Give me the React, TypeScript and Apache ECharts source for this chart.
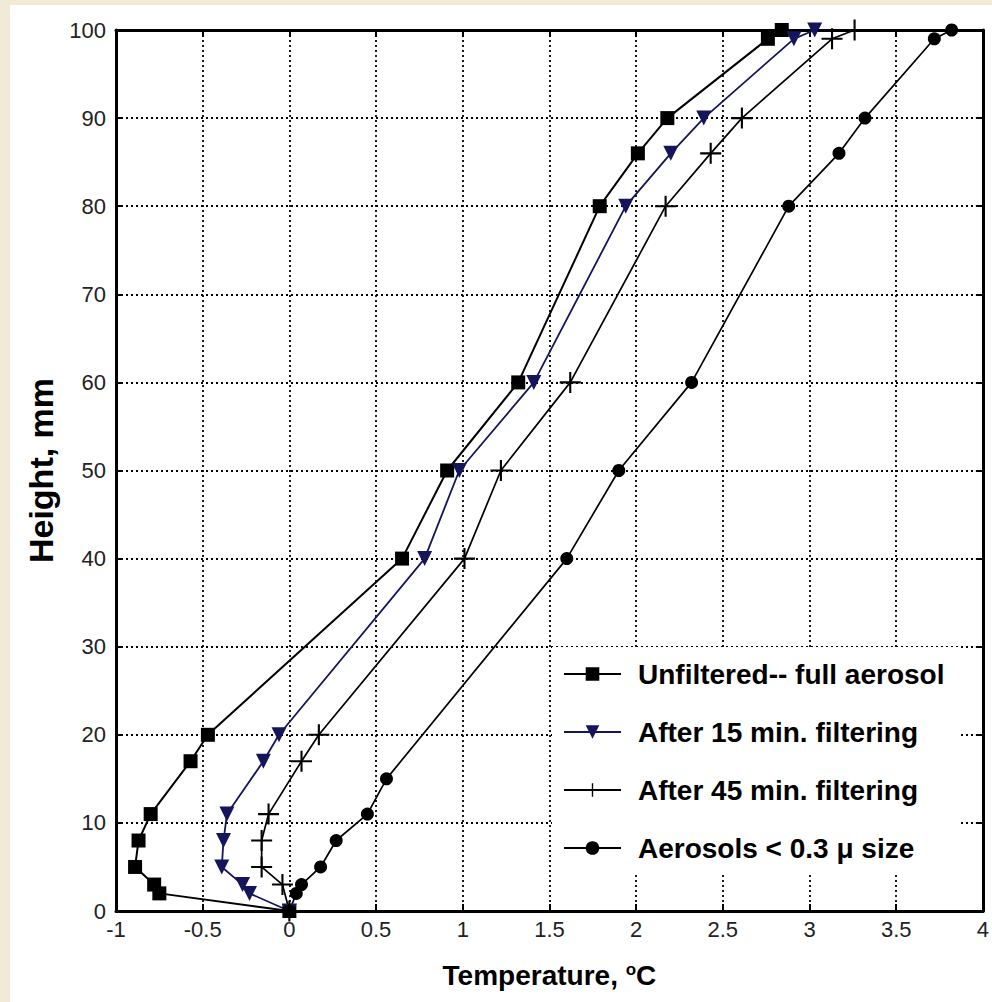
import React, { useEffect, useRef } from "react";
import * as echarts from "echarts";

const heightsUnfiltered = [0, 2, 3, 5, 8, 11, 17, 20, 40, 50, 60, 80, 86, 90, 99, 100];
const tempUnfiltered = [0, -0.75, -0.78, -0.89, -0.87, -0.8, -0.57, -0.47, 0.65, 0.91, 1.32, 1.79, 2.01, 2.18, 2.76, 2.84];

const heights15 = [0, 2, 3, 5, 8, 11, 17, 20, 40, 50, 60, 80, 86, 90, 99, 100];
const temp15 = [0, -0.23, -0.27, -0.39, -0.38, -0.36, -0.15, -0.06, 0.78, 0.98, 1.41, 1.94, 2.2, 2.39, 2.91, 3.03];

const heights45 = [0, 3, 5, 8, 11, 17, 20, 40, 50, 60, 80, 86, 90, 99, 100];
const temp45 = [0, -0.04, -0.16, -0.16, -0.12, 0.07, 0.17, 1.01, 1.22, 1.62, 2.17, 2.43, 2.61, 3.13, 3.26];

const heightsSmall = [0, 2, 3, 5, 8, 11, 15, 40, 50, 60, 80, 86, 90, 99, 100];
const tempSmall = [0, 0.04, 0.07, 0.18, 0.27, 0.45, 0.56, 1.6, 1.9, 2.32, 2.88, 3.17, 3.32, 3.72, 3.82];

const seriesNames = [
  "Unfiltered-- full aerosol",
  "After 15 min. filtering",
  "After 45 min. filtering",
  "Aerosols < 0.3 \u03bc size",
];

const SANS = "'Liberation Sans', Arial, sans-serif";
const NAVY = "#15155c";
const PLUS = "path://M-1,-10 L1,-10 L1,-1 L10,-1 L10,1 L1,1 L1,10 L-1,10 L-1,1 L-10,1 L-10,-1 L-1,-1 Z";

const pairs = (xs: number[], ys: number[]) => xs.map((x, i) => [x, ys[i]]);

export default function App() {
  const ref = useRef<HTMLDivElement>(null);
  useEffect(() => {
    document.body.style.margin = "0";
    if (!ref.current) return;
    const chart = echarts.init(ref.current, undefined, { renderer: "svg" });
    const splitLine = { show: true, lineStyle: { color: "#000", width: 1.8, type: [2, 3] as any } };
    const axisLine = { show: true, onZero: false, lineStyle: { color: "#000", width: 3 } };
    const axisTick = { show: true, inside: true, length: 7, lineStyle: { color: "#000", width: 2 } };
    chart.setOption({
      animation: false,
      backgroundColor: "#ffffff",
      grid: { left: 106, top: 25, right: 9, bottom: 91, containLabel: false },
      xAxis: [
        {
          type: "value",
          min: -1,
          max: 4,
          interval: 0.5,
          position: "bottom",
          axisLine,
          axisTick,
          splitLine,
          axisLabel: { color: "#222", fontFamily: SANS, fontSize: 22, margin: 7 },
          name: "Temperature, {sup|o}C",
          nameLocation: "middle",
          nameGap: 50,
          nameTextStyle: {
            color: "#000",
            fontFamily: SANS,
            fontWeight: "bold",
            fontSize: 28,
            rich: {
              sup: { fontFamily: SANS, fontWeight: "bold", fontSize: 17, color: "#000", padding: [0, 0, 12, 0] },
            },
          },
        },
        {
          type: "value",
          min: -1,
          max: 4,
          interval: 0.5,
          position: "top",
          axisLine,
          axisTick,
          splitLine: { show: false },
          axisLabel: { show: false },
        },
      ],
      yAxis: [
        {
          type: "value",
          min: 0,
          max: 100,
          interval: 10,
          position: "left",
          axisLine,
          axisTick,
          splitLine,
          axisLabel: { color: "#222", fontFamily: SANS, fontSize: 22, margin: 10 },
          name: "Height, mm",
          nameLocation: "middle",
          nameRotate: 90,
          nameGap: 44,
          nameTextStyle: { color: "#000", fontFamily: SANS, fontWeight: "bold", fontSize: 34 },
        },
        {
          type: "value",
          min: 0,
          max: 100,
          interval: 10,
          position: "right",
          axisLine,
          axisTick,
          splitLine: { show: false },
          axisLabel: { show: false },
        },
      ],
      legend: {
        orient: "vertical",
        left: 542,
        top: 642,
        backgroundColor: "#ffffff",
        borderWidth: 0,
        padding: [7, 14, 7, 11],
        itemWidth: 57,
        itemHeight: 17,
        itemGap: 18,
        data: seriesNames,
        textStyle: {
          color: "#000",
          fontFamily: SANS,
          fontWeight: "bold",
          fontSize: 28,
          lineHeight: 40,
          padding: [0, 0, 0, 12],
        },
      },
      series: [
        {
          name: seriesNames[0],
          type: "line",
          data: pairs(tempUnfiltered, heightsUnfiltered),
          symbol: "rect",
          symbolSize: 14,
          clip: false,
          lineStyle: { color: "#000", width: 2 },
          itemStyle: { color: "#000" },
        },
        {
          name: seriesNames[1],
          type: "line",
          data: pairs(temp15, heights15),
          symbol: "triangle",
          symbolRotate: 180,
          symbolSize: 15,
          clip: false,
          lineStyle: { color: NAVY, width: 1.8 },
          itemStyle: { color: NAVY },
        },
        {
          name: seriesNames[2],
          type: "line",
          data: pairs(temp45, heights45),
          symbol: PLUS,
          symbolSize: 21,
          clip: false,
          lineStyle: { color: "#000", width: 1.7 },
          itemStyle: { color: "#000" },
        },
        {
          name: seriesNames[3],
          type: "line",
          data: pairs(tempSmall, heightsSmall),
          symbol: "circle",
          symbolSize: 13,
          clip: false,
          lineStyle: { color: "#000", width: 1.7 },
          itemStyle: { color: "#000" },
        },
      ],
    });
    return () => chart.dispose();
  }, []);
  return (
    <div style={{ width: 992, height: 1002, background: "#F1EAD6", position: "relative" }}>
      <div
        ref={ref}
        style={{ position: "absolute", left: 10, top: 5, width: 982, height: 997, background: "#fff" }}
      />
    </div>
  );
}
